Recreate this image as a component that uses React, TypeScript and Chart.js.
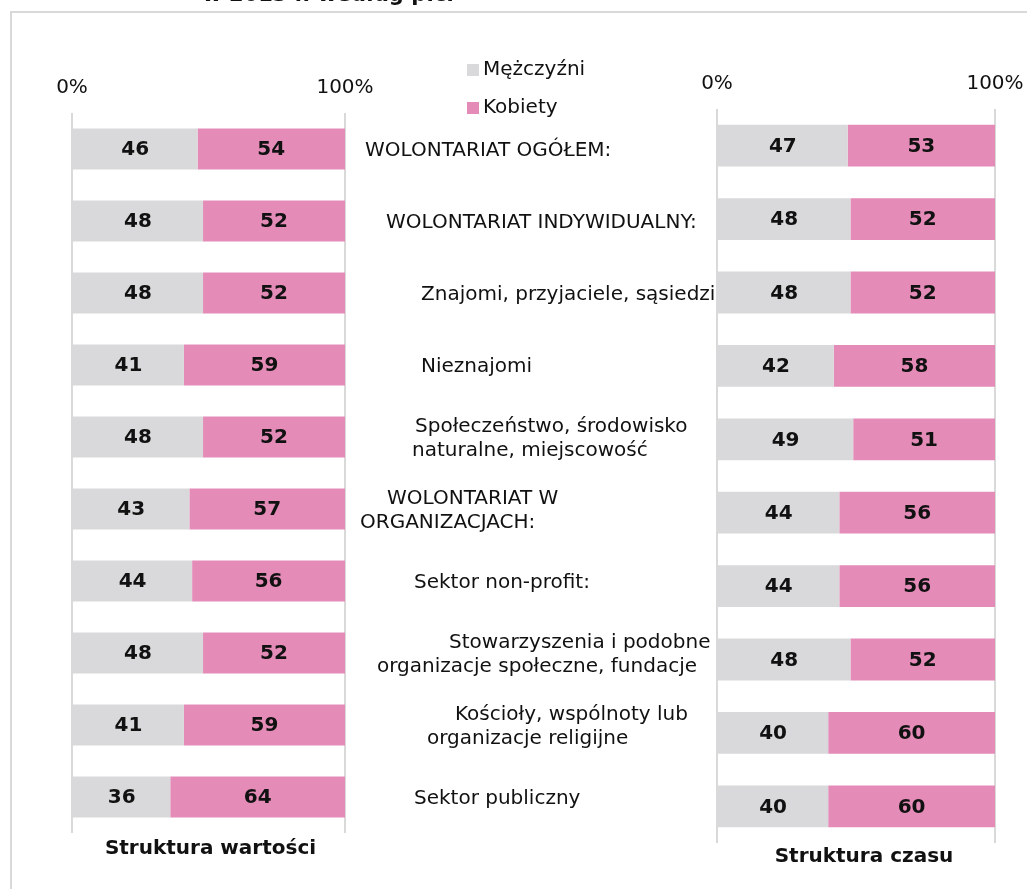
import React, { useEffect, useRef } from "react";
import { Chart, registerables } from "chart.js";

Chart.register(...registerables);

// ---------- data ----------
const chartTitle = "w 2013 r. według płci";
const categories: string[][] = [
  ["WOLONTARIAT OGÓŁEM:"],
  ["WOLONTARIAT INDYWIDUALNY:"],
  ["Znajomi, przyjaciele, sąsiedzi"],
  ["Nieznajomi"],
  ["Społeczeństwo, środowisko", "naturalne, miejscowość"],
  ["WOLONTARIAT W", "ORGANIZACJACH:"],
  ["Sektor non-profit:"],
  ["Stowarzyszenia i podobne", "organizacje społeczne, fundacje"],
  ["Kościoły, wspólnoty lub", "organizacje religijne"],
  ["Sektor publiczny"],
];
const seriesNames = ["Mężczyźni", "Kobiety"];
const valueMen = [46, 48, 48, 41, 48, 43, 44, 48, 41, 36];
const valueWomen = [54, 52, 52, 59, 52, 57, 56, 52, 59, 64];
const timeMen = [47, 48, 48, 42, 49, 44, 44, 48, 40, 40];
const timeWomen = [53, 52, 52, 58, 51, 56, 56, 52, 60, 60];
const tickValues = [0, 100];
const panelTitles = ["Struktura wartości", "Struktura czasu"];

// ---------- layout / style ----------
const W = 1027;
const H = 889;
const RW = 1080; // right canvas is wider than the page; overflow is clipped
const FONT = "'DejaVu Sans', Verdana, sans-serif";
const TEXT = "#111111";
const GRAY = "#D9D9DB";
const PINK = "#E48BB8";
const GRID = "#D9D9D9";
// left x of each line of the middle labels
const labelLineX: number[][] = [
  [365],
  [386],
  [421],
  [421],
  [415, 412],
  [387, 360],
  [414],
  [449, 377],
  [455, 427],
  [414],
];

Chart.defaults.font.family = FONT;
Chart.defaults.font.size = 20;
Chart.defaults.color = TEXT;

const valueLabelPlugin = {
  id: "valueLabels",
  afterDatasetsDraw(chart: any) {
    const ctx = chart.ctx;
    ctx.save();
    ctx.font = `bold 20px ${FONT}`;
    ctx.fillStyle = TEXT;
    ctx.textAlign = "center";
    ctx.textBaseline = "middle";
    chart.data.datasets.forEach((ds: any, di: number) => {
      const meta = chart.getDatasetMeta(di);
      meta.data.forEach((bar: any, i: number) => {
        const p = bar.getProps(["x", "base", "y"], true);
        ctx.fillText(String(ds.data[i]), (p.x + p.base) / 2, p.y + 1);
      });
    });
    ctx.restore();
  },
};

function panelTitlePlugin(text: string, dx: number, dy: number) {
  return {
    id: "panelTitle",
    afterDraw(chart: any) {
      const { ctx, chartArea } = chart;
      ctx.save();
      ctx.font = `bold 20px ${FONT}`;
      ctx.fillStyle = TEXT;
      ctx.textAlign = "center";
      ctx.textBaseline = "alphabetic";
      ctx.fillText(text, (chartArea.left + chartArea.right) / 2 + dx, chartArea.bottom + dy);
      ctx.restore();
    },
  };
}

const decorPlugin = {
  id: "decor",
  beforeDraw(chart: any) {
    const ctx = chart.ctx;
    ctx.save();
    ctx.fillStyle = "#ffffff";
    ctx.fillRect(0, 0, W, H);
    ctx.strokeStyle = GRID;
    ctx.lineWidth = 2;
    ctx.strokeRect(11, 12, W + 20, H + 20);
    ctx.restore();
  },
  afterDraw(chart: any) {
    const ctx = chart.ctx;
    const yScale = chart.scales.y;
    ctx.save();
    // title (partially cut at top)
    ctx.font = `bold 21px ${FONT}`;
    ctx.fillStyle = TEXT;
    ctx.textAlign = "center";
    ctx.textBaseline = "alphabetic";
    ctx.fillText(chartTitle, 328, 1);

    // legend
    ctx.font = `20px ${FONT}`;
    ctx.textAlign = "left";
    ctx.textBaseline = "middle";
    chart.data.datasets.forEach((ds: any, i: number) => {
      const cy = 70 + i * 38;
      ctx.fillStyle = ds.backgroundColor;
      ctx.fillRect(467, cy - 6, 12, 12);
      ctx.fillStyle = TEXT;
      ctx.fillText(ds.label, 483, cy);
    });

    // middle category labels
    categories.forEach((lines, i) => {
      const cy = yScale.getPixelForValue(i) + 2;
      const n = lines.length;
      lines.forEach((line, j) => {
        const y = cy + (j - (n - 1) / 2) * 24;
        ctx.fillText(line, labelLineX[i][j], y);
      });
    });
    ctx.restore();
  },
};

function makeOptions(padding: any) {
  return {
    animation: false as const,
    responsive: false,
    indexAxis: "y" as const,
    layout: { padding },
    plugins: {
      legend: { display: false },
      title: { display: false },
      tooltip: { enabled: false },
    },
    scales: {
      x: {
        position: "top" as const,
        stacked: true,
        min: 0,
        max: 100,
        afterBuildTicks: (s: any) => {
          s.ticks = tickValues.map((v) => ({ value: v }));
        },
        ticks: {
          padding: 13,
          maxRotation: 0,
          color: TEXT,
          font: { size: 20, family: FONT },
          callback: (v: any) => v + "%",
        },
        grid: { color: GRID, lineWidth: 2, drawTicks: false },
        border: { display: false },
      },
      y: {
        display: false,
        stacked: true,
      },
    },
  };
}

function makeData(men: number[], women: number[]) {
  return {
    labels: categories.map((l) => l.join(" ")),
    datasets: [
      {
        label: seriesNames[0],
        data: men,
        backgroundColor: GRAY,
        borderWidth: 0,
        barPercentage: 1,
        categoryPercentage: 0.57,
      },
      {
        label: seriesNames[1],
        data: women,
        backgroundColor: PINK,
        borderWidth: 0,
        barPercentage: 1,
        categoryPercentage: 0.57,
      },
    ],
  };
}

export default function App() {
  const leftRef = useRef<HTMLCanvasElement>(null);
  const rightRef = useRef<HTMLCanvasElement>(null);

  useEffect(() => {
    const left = new Chart(leftRef.current!, {
      type: "bar",
      data: makeData(valueMen, valueWomen),
      options: makeOptions({ left: 72, right: W - 345, top: 63, bottom: H - 833 }) as any,
      plugins: [decorPlugin, valueLabelPlugin, panelTitlePlugin(panelTitles[0], 2, 21)],
    });
    const right = new Chart(rightRef.current!, {
      type: "bar",
      data: makeData(timeMen, timeWomen),
      options: makeOptions({ left: 717, right: RW - 995, top: 59, bottom: H - 843 }) as any,
      plugins: [valueLabelPlugin, panelTitlePlugin(panelTitles[1], 8, 19)],
    });
    return () => {
      left.destroy();
      right.destroy();
    };
  }, []);

  return (
    <div
      style={{
        position: "absolute",
        left: 0,
        top: 0,
        width: W,
        height: H,
        overflow: "hidden",
        background: "#fff",
      }}
    >
      <canvas
        ref={leftRef}
        width={W}
        height={H}
        style={{ position: "absolute", left: 0, top: 0, width: W, height: H }}
      />
      <canvas
        ref={rightRef}
        width={RW}
        height={H}
        style={{ position: "absolute", left: 0, top: 0, width: RW, height: H }}
      />
    </div>
  );
}
